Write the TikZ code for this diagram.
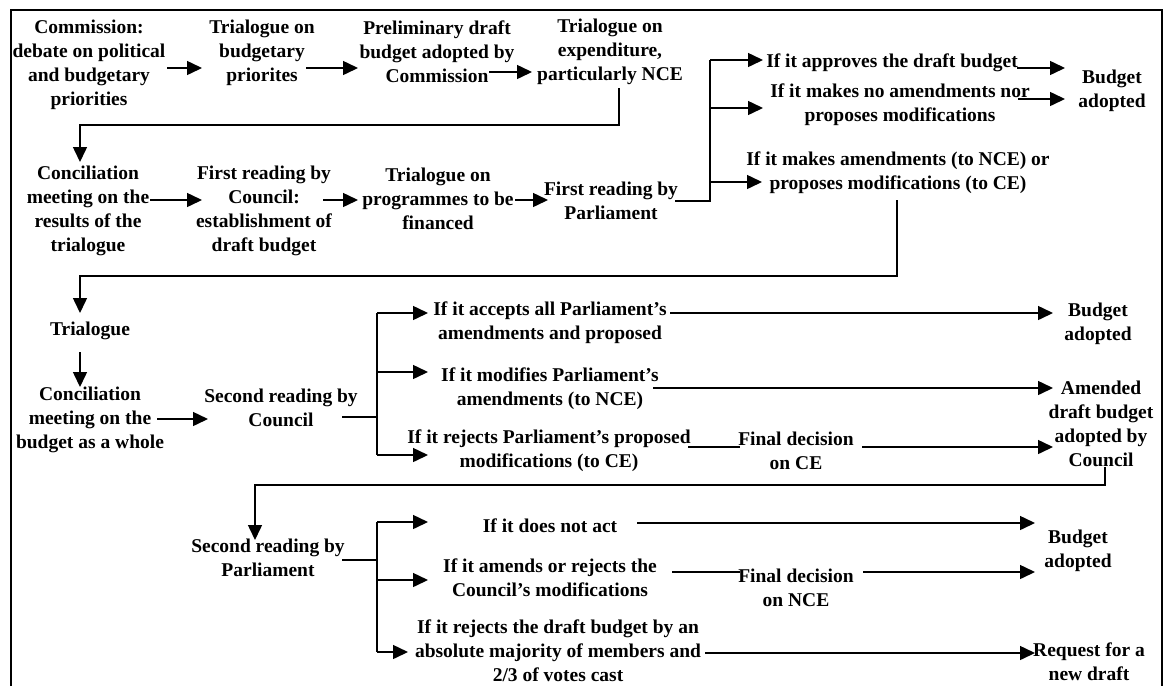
\documentclass[tikz,border=0pt]{standalone}
\usepackage{fontspec}
\setmainfont{Liberation Serif}
\usetikzlibrary{arrows.meta}
\begin{document}
\begin{tikzpicture}[x=1pt,y=-1pt,
  txt/.style={font=\fontsize{19.5}{24}\selectfont\bfseries, align=center, inner sep=0pt, yshift=-2.5pt},
  ln/.style={line width=1.5pt},
  arr/.style={ln, -{Triangle[length=15pt,width=14pt]}},
]
\useasboundingbox (0,0) rectangle (1166,686);
% outer frame, open at the bottom
\draw[line width=1.8pt] (11,686) -- (11,10) -- (1162,10) -- (1162,686);

% ---------- first stage ----------
\node[txt] (comm)   at (89,62)  {Commission:\\debate on political\\and budgetary\\priorities};
\node[txt] (tri1)   at (262,50) {Trialogue on\\budgetary\\priorites};
\node[txt] (prelim) at (437,49) {Preliminary draft\\budget adopted by\\Commission};
\node[txt] (tri2)   at (610,49) {Trialogue on\\expenditure,\\particularly NCE};

\node[txt] (conc1)  at (88,208)  {Conciliation\\meeting on the\\results of the\\trialogue};
\node[txt] (first1) at (264,208) {First reading by\\Council:\\establishment of\\draft budget};
\node[txt] (tri3)   at (438,196) {Trialogue on\\programmes to be\\financed};
\node[txt] (firstP) at (611,198) {First reading by\\Parliament};

\node[txt] (ifapp)  at (892,60)  {If it approves the draft budget};
\node[txt] (ifnoam) at (900,102) {If it makes no amendments nor\\proposes modifications};
\node[txt] (bud1)   at (1112,88) {Budget\\adopted};
\node[txt] (ifam)   at (898,170) {If it makes amendments (to NCE) or\\proposes modifications (to CE)};

% ---------- Council second reading ----------
\node[txt] (triA)   at (90,328)  {Trialogue};
\node[txt] (conc2)  at (90,417)  {Conciliation\\meeting on the\\budget as a whole};
\node[txt] (secC)   at (281,405) {Second reading by\\Council};
\node[txt] (ifacc)  at (550,320) {If it accepts all Parliament’s\\amendments and proposed};
\node[txt] (bud2)   at (1098,321) {Budget\\adopted};
\node[txt] (ifmod)  at (550,386) {If it modifies Parliament’s\\amendments (to NCE)};
\node[txt] (amend)  at (1101,421) {Amended\\draft budget\\adopted by\\Council};
\node[txt] (ifrej)  at (549,448) {If it rejects Parliament’s proposed\\modifications (to CE)};
\node[txt] (finCE)  at (796,448) {Final decision\\on CE};

% ---------- Parliament second reading ----------
\node[txt] (secP)    at (268,555) {Second reading by\\Parliament};
\node[txt] (ifnot)   at (550,523) {If it does not act};
\node[txt] (ifamend) at (550,575) {If it amends or rejects the\\Council’s modifications};
\node[txt] (finNCE)  at (796,585) {Final decision\\on NCE};
\node[txt] (bud3)    at (1078,548) {Budget\\adopted};
\node[txt] (ifrejd)  at (558,648) {If it rejects the draft budget by an\\absolute majority of members and\\2/3 of votes cast};
\node[txt] (req)     at (1089,659) {Request for a\\new draft};

% junction points of the branching lines
\coordinate (jP1) at (710,201);
\coordinate (jC2) at (377,417);
\coordinate (jP2) at (377,560);

% ---------- connectors, first stage ----------
\draw[arr] (167,68) -- (202,68);
\draw[arr] (306,68) -- (358,68);
\draw[arr] (489,72) -- (532,72);
\draw[arr] (619,88) -- (619,125) -- (80,125) -- (80,162);

\draw[arr] (150,200) -- (202,200);
\draw[arr] (323,200) -- (358,200);
\draw[arr] (515,200) -- (548,200);
\draw[ln] (675,201) -- (jP1);
\draw[ln] (710,60) -- (710,202);
\draw[arr] (710,60) -- (763,60);
\draw[arr] (710,108) -- (763,108);
\draw[arr] (jP1 |- 0,182) -- (762,182);
\draw[arr] (1017,68) -- (1065,68);
\draw[arr] (1018,99) -- (1065,99);

\draw[arr] (897,200) -- (897,276) -- (80,276) -- (80,313);

% ---------- connectors, Council ----------
\draw[arr] (80,352) -- (80,387);
\draw[arr] (157,419) -- (208,419);
\draw[ln] (342,417) -- (jC2);
\draw[ln] (377,313) -- (377,455);
\draw[arr] (377,313) -- (428,313);
\draw[arr] (377,372) -- (428,372);
\draw[arr] (377,455) -- (428,455);
\draw[arr] (670,313) -- (1053,313);
\draw[arr] (653,388) -- (1053,388);
\draw[ln]  (688,447) -- (740,447);
\draw[arr] (862,447) -- (1053,447);
\draw[arr] (1105,467) -- (1105,485) -- (255,485) -- (255,540);

% ---------- connectors, Parliament ----------
\draw[ln] (342,560) -- (jP2);
\draw[ln] (377,522) -- (377,652);
\draw[arr] (377,522) -- (428,522);
\draw[arr] (377,580) -- (428,580);
\draw[arr] (377,652) -- (408,652);
\draw[arr] (637,523) -- (1035,523);
\draw[ln]  (672,572) -- (740,572);
\draw[arr] (863,572) -- (1035,572);
\draw[arr] (705,653) -- (1035,653);
\end{tikzpicture}
\end{document}
